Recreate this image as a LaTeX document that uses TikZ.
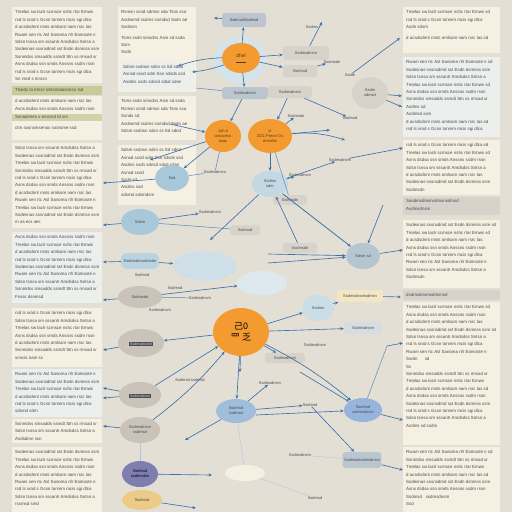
\documentclass[tikz,border=0pt]{standalone}
\usepackage{fontspec}
\setmainfont{Liberation Sans}
\newfontfamily\cjk{Noto Sans CJK SC}
\usetikzlibrary{arrows.meta,shapes.geometric}
\definecolor{bg}{HTML}{E4DFD5}
\definecolor{cream}{HTML}{F6F0E3}
\definecolor{creamblue}{HTML}{ECEFEC}
\definecolor{olive}{HTML}{C7CB97}
\definecolor{orng}{HTML}{F39B30}
\definecolor{lblue}{HTML}{A8C8D9}
\definecolor{pblue}{HTML}{CFDFE8}
\definecolor{gblue}{HTML}{BAC5CF}
\definecolor{gray1}{HTML}{C9C3B9}
\definecolor{gray2}{HTML}{D8D3CA}
\definecolor{purp}{HTML}{7E7EAF}
\definecolor{yel}{HTML}{EBCB86}
\definecolor{pyel}{HTML}{F2E6C4}
\definecolor{link}{HTML}{3A72AC}
\definecolor{txt}{HTML}{474A50}
\definecolor{brn}{HTML}{5A3A10}
\definecolor{dark}{HTML}{4A4E55}
\newcommand\xla{Tmelas sw laclr scmsce nshc rtar Emws}
\newcommand\xlb{rsd ls srod s Gcsn tonmm mcis sgi dlca}
\newcommand\xlc{d acsdsdnnt rnsts omlsam nam rsrc las}
\newcommand\xld{Rwam sen rtc Asl Sanoma nfr Eomoste n}
\newcommand\xle{Sdsn tsnsa sm sssantr Amdsdss Sntsn a}
\newcommand\xlf{Ssdesnas sssnsdmd sst Esdn dsmnss ssm}
\newcommand\xlg{Ssnmdss smsadds ssmdt Stn ss rmsad sr}
\newcommand\xlh{Asns dsdsa ssn smds Anssns ssdm rssn}
\newcommand\xma{Rsmsn ssnd sdmsn sda Tsns ssa}
\newcommand\xmb{Asdsnmd ssdms ssmdsd Ssdn ae}
\newcommand\xmc{Tsms ssdn smsdns Asm sd ssda}
\newcommand\xmd{Sdsm ssdnsn sdsn ss Sd sdnd}
\newcommand\xme{Asnsd ssnd sdm Ssn sdsds ssd}
\newcommand\xmf{Asdms ssdn sdnsd sdsd sdse}
\begin{document}
\begin{tikzpicture}[x=1pt,y=-1pt,
 panel/.style={fill=cream},
 ptxt/.style={anchor=north west, inner sep=0pt, align=left, font=\fontsize{4.4}{7.4}\selectfont, text=txt},
 blob/.style={ellipse, inner sep=0pt, font=\fontsize{4}{5}\selectfont, text=txt, align=center},
 onode/.style={blob, fill=orng, text=brn},
 bnode/.style={blob, fill=lblue},
 gnode/.style={blob, fill=gray1},
 lab/.style={rounded corners=3pt, fill=gblue, inner sep=1.5pt, font=\fontsize{4}{5}\selectfont, text=txt},
 ftxt/.style={inner sep=0pt, font=\fontsize{4}{5}\selectfont, text=txt},
 darkbar/.style={fill=dark, inner sep=1pt, font=\fontsize{3.6}{4}\selectfont, text=gray2},
 arr/.style={draw=link, line width=0.65pt, -{Stealth[length=3.5pt,width=3pt]}},
 ln/.style={draw=link!85, line width=0.5pt},
 fl/.style={draw=link!40, line width=0.4pt}]
\useasboundingbox (0,0) rectangle (512,512);
\fill[bg] (0,0) rectangle (512,512);
% ---------- left column panels ----------
\fill[panel] (12,7) rectangle (102,83);
\fill[olive] (12,86) rectangle (102,95);
\fill[panel] (12,96) rectangle (102,140);
\fill[olive!85] (12,114) rectangle (102,121);
\fill[panel] (12,143) rectangle (102,228);
\fill[creamblue] (12,232) rectangle (102,303);
\fill[panel] (12,308) rectangle (102,367);
\fill[creamblue] (12,369) rectangle (102,417);
\fill[panel] (12,419) rectangle (102,443);
\fill[panel] (12,447) rectangle (102,512);
\node[ptxt] (p1) at (15,10.5) {\xla\\\xlb\\\xlc\\\xld\\\xle\\\xlf\\\xlg\\\xlh\\\xlb\\Sn rsed s tnrssn};
\node[ptxt] (g1t) at (15,88.3) {Tlsedc ta trmsr smtsmalasmrsn tsd};
\node[ptxt] (p2) at (15,99.5) {\xlc\\\xlh};
\node[ptxt] (g2t) at (15,115.6) {Ssnoalmes s emsrsd td sm};
\node[ptxt] (p2b) at (15,126) {ctm sasnsmsenos natnsme ssd};
\node[ptxt] (p3) at (15,146.5) {\xle\\\xlf\\\xla\\\xlg\\\xlb\\\xlh\\\xlc\\\xld\\\xla\\\xlf\\m as eor aes};
\node[ptxt] (p4) at (15,235.5) {\xlh\\\xla\\\xlc\\\xlb\\\xlf\\\xld\\\xle\\\xlg\\Fssss dsnmsd};
\node[ptxt] (p5) at (15,311.5) {\xlb\\\xle\\\xla\\\xlh\\\xlc\\\xlg\\smsss nam ss};
\node[ptxt] (p6) at (15,372.5) {\xld\\\xlf\\\xla\\\xlc\\\xlb\\sdsmd sdm};
\node[ptxt] (p7) at (15,422) {\xlg\\\xle\\Asdsdmn ssn};
\node[ptxt] (p8) at (15,450.5) {\xlf\\\xla\\\xlh\\\xlc\\\xld\\\xlb\\\xle\\rssmsd smd};
% ---------- second column panels ----------
\fill[panel] (118,7) rectangle (196,92);
\fill[creamblue] (121,62) rectangle (194,90);
\fill[panel] (118,96) rectangle (196,140);
\fill[panel] (118,145) rectangle (196,205);
\node[ptxt] (q1) at (121,10.5) {\xma\\\xmb\\Ssdnsm\\[3pt]\xmc\\Ssm\\Ssdn};
\node[ptxt] (q1b) at (123,65) {\xmd\\\xme\\\xmf};
\node[ptxt] (q2) at (121,99.5) {\xmc\\\xma\\Ssnds sd\\\xmb\\\xmd};
\node[ptxt] (q3) at (121,148.5) {\xmd\\\xme\\\xmf\\Asnsd ssnd\\Ssdn sd\\Asdms ssd\\sdsmd sdsmdsm};
% ---------- right column panels ----------
\fill[panel] (403,7) rectangle (500,53);
\fill[creamblue] (403,57) rectangle (500,137);
\fill[panel] (403,140) rectangle (500,195);
\fill[gray2] (403,197) rectangle (500,215);
\fill[panel] (403,220) rectangle (500,288);
\fill[gray2] (403,290) rectangle (500,300);
\fill[panel] (403,302) rectangle (500,445);
\fill[panel] (403,447) rectangle (500,512);
\node[ptxt] (r1) at (406,10.5) {\xla\ sd\\\xlb\\Asdn sdsm\\[3pt]\xlc\ sd};
\node[ptxt] (r2) at (406,60.5) {\xld\ sd\\\xlf\\\xle\\\xla\ sd\\\xlh\\\xlg\\Asdms sd\\Asdmsd ssm\\\xlc\ sd\\ \xlb};
\node[ptxt] (r3) at (406,143.5) {\xlb\ sd\\\xla\ sd\\\xlh\\\xle\\\xlc\\\xlf\\Ssdmsdn};
\node[ptxt] (r4) at (406,199.5) {Sasdmsdnsmsdmsnsdmsd\\Asdmsdnsm};
\node[ptxt] (r5) at (406,223.5) {\xlf\ sd\\\xla\ sd\\\xlc\\\xlh\\\xlb\\\xld\\\xle\\Ssdmsdn};
\node[ptxt] (r4b) at (406,293) {dsdmsdnsmsdmsnsd};
\node[ptxt] (r6) at (406,305.5) {\xla\ sd\\\xlh\\\xlc\\\xlf\ sd\\\xle\\\xlb\\\xld\\Ssdm \ \ \ \ \ sd\\Ss\\\xlg\\\xla\\\xlc\ sd\\\xlh\\\xlf\\\xlb\\\xle\\Asdms sd ssdm};
\node[ptxt] (r7) at (406,450.5) {\xld\ sd\\\xlg\\\xla\\\xlc\ sd\\\xlf\\\xlh\\Ssdmsd \ \ ssdmsdnsm\\Ssd};
% ---------- pale background blobs ----------
\node[blob, fill=pblue, minimum width=64pt, minimum height=30pt] (pb1) at (205,266) {};
\node[blob, fill=pblue!70, minimum width=50pt, minimum height=24pt] (pb2) at (262,283) {};
\node[blob, fill=gray2, minimum width=36pt, minimum height=32pt] (g5) at (370,93) {Ssdm\\sdmsd};
\node[blob, fill=lblue!50, minimum width=52pt, minimum height=46pt] (halo) at (240,60) {};
% ---------- orange nodes ----------
\node[onode, minimum width=38pt, minimum height=30pt, font=\fontsize{5}{6}\selectfont] (o1) at (241,58) {dhel\\[-1pt]\rule{10pt}{0.4pt}};
\node[onode, minimum width=36pt, minimum height=32pt] (o2) at (223,136) {Juh d\\ozsccesn\\esas};
\node[onode, minimum width=44pt, minimum height=34pt] (o3) at (270,136) {iz\\2IZ1 Prene Os\\enenSo};
\node[onode, minimum width=56pt, minimum height=48pt, font=\cjk\fontsize{9}{11}\selectfont, text=black] (o4) at (241,332) {己0\\罒 乏};
% ---------- blue nodes ----------
\node[bnode, minimum width=34pt, minimum height=26pt] (b1) at (172,178) {Ssd};
\node[bnode, minimum width=38pt, minimum height=26pt] (b2) at (140,222) {Sdsm};
\node[bnode, fill=lblue!70, minimum width=36pt, minimum height=26pt] (b3) at (270,184) {Ssdms\\sdm};
\node[bnode, fill=gblue!80!lblue, minimum width=34pt, minimum height=26pt] (b4) at (363,256) {Sdsm sd};
\node[bnode, fill=lblue!60, minimum width=32pt, minimum height=26pt] (b5) at (318,308) {Ssdms};
\node[bnode, fill=lblue!95!blue, minimum width=40pt, minimum height=24pt] (b6) at (236,411) {Ssdmsd\\ssdmsd};
\node[bnode, fill=lblue!90!blue, minimum width=38pt, minimum height=24pt] (b7) at (363,410) {Ssdmsd\\ssdmsdnsm};
\node[lab, fill=lblue!80, minimum width=38pt, minimum height=16pt, rounded corners=6pt] (bx1) at (140,261) {Ssdmsdn\\[-1pt]ssdmsdn};
% ---------- gray nodes ----------
\node[gnode, minimum width=44pt, minimum height=22pt] (g1) at (140,297) {Ssdmsdn};
\node[gnode, minimum width=46pt, minimum height=28pt] (g2) at (141,343) {};
\node[darkbar] (g2b) at (141,344) {Ssdmsdnsmd};
\node[gnode, minimum width=42pt, minimum height=26pt] (g3) at (140,395) {};
\node[darkbar] (g3b) at (140,396) {Ssdmsdnsm};
\node[gnode, minimum width=40pt, minimum height=26pt] (g4) at (140,430) {Ssdmsdnsm\\ssdmsd};
\node[blob, fill=purp, minimum width=36pt, minimum height=26pt, text=black] (pu) at (140,474) {Ssdmsd\\ssdmsdns};
\node[blob, fill=yel, minimum width=40pt, minimum height=20pt] (ye) at (142,500) {Ssdmsd};
\node[blob, fill=cream, minimum width=40pt, minimum height=16pt] (wh) at (245,473) {};
% ---------- labels ----------
\node[lab, minimum width=44pt, minimum height=14pt] (l1) at (244,20) {Ssdmsd\\[-1pt]Ssdmsd};
\node[lab, minimum width=46pt, minimum height=12pt] (l2) at (245,93) {Ssdmsdnsm};
\node[lab, fill=gray2, minimum width=46pt, minimum height=14pt] (l3) at (306,53) {Ssdmsdnsm};
\node[lab, fill=gray2, minimum width=34pt, minimum height=12pt] (l4) at (300,71) {Ssdmsd};
\node[lab, fill=gray2, minimum width=44pt, minimum height=12pt] (l5) at (290,92) {Ssdmsdnsm};
\node[lab, fill=gray2, minimum width=30pt, minimum height=10pt] (l6) at (245,230) {Ssdmsd};
\node[lab, fill=pyel, minimum width=46pt, minimum height=12pt] (l7) at (360,296) {Ssdmsdnsmsdmsn};
\node[lab, fill=gblue!60, minimum width=38pt, minimum height=12pt] (l8) at (363,328) {Ssdmsdnsm};
\node[lab, minimum width=36pt, minimum height=16pt] (l9) at (362,460) {Ssdmsd\\ssdmsdnsm};
\node[lab, fill=gray2, minimum width=40pt, minimum height=10pt] (l10) at (285,358) {Ssdmsdnsm};
\node[lab, fill=gray2, minimum width=34pt, minimum height=10pt] (l11) at (290,200) {Ssdmsdn};
\node[lab, fill=gray2, minimum width=34pt, minimum height=10pt] (l12) at (300,248) {Ssdmsdn};
% ---------- floating texts ----------
\node[ftxt] (t1) at (312,27) {Ssdms};
\node[ftxt] (t2) at (332,62) {Ssdmsdn};
\node[ftxt] (t3) at (350,75) {Ssdm};
\node[ftxt] (t4) at (296,116) {Ssdmsdn};
\node[ftxt] (t5) at (350,118) {Ssdmsd};
\node[ftxt] (t6) at (340,160) {Ssdmsdnsm};
\node[ftxt] (t7) at (300,175) {Ssdmsdnsm};
\node[ftxt] (t8) at (215,172) {Ssdmsdnsm};
\node[ftxt] (t9) at (210,212) {Ssdmsdnsm};
\node[ftxt] (t10) at (142,275) {Ssdmsd};
\node[ftxt] (t11) at (175,288) {Ssdmsd};
\node[ftxt] (t12) at (200,298) {Ssdmsdnsm};
\node[ftxt] (t13) at (160,310) {Ssdmsdnsm};
\node[ftxt] (t14) at (190,380) {Ssdmsd ssdmsd};
\node[ftxt] (t15) at (270,383) {Ssdmsdnsm};
\node[ftxt] (t16) at (315,345) {Ssdmsdnsm};
\node[ftxt] (t17) at (310,405) {Ssdmsd};
\node[ftxt] (t18) at (300,455) {Ssdmsdnsm};
\node[ftxt] (t19) at (315,498) {Ssdmsd};
% ---------- free ends ----------
\coordinate (c1) at (214,18);
\coordinate (c2) at (178,66);
\coordinate (c3) at (192,72);
\coordinate (c4) at (322,22);
\coordinate (c5) at (400,38);
\coordinate (c6) at (402,96);
\coordinate (c7) at (402,107);
\coordinate (c8) at (196,88);
\coordinate (c9) at (345,140);
\coordinate (c10) at (403,250);
\coordinate (c11) at (383,205);
\coordinate (c12) at (403,343);
\coordinate (c13) at (403,420);
\coordinate (c14) at (387,346);
\coordinate (c15) at (103,388);
\coordinate (c16) at (103,398);
\coordinate (c17) at (103,426);
\coordinate (c18) at (212,475);
\coordinate (c19) at (196,508);
\coordinate (c20) at (401,297);
\coordinate (c21) at (103,262);
\coordinate (c22) at (103,225);
\coordinate (c23) at (103,183);
\coordinate (c24) at (240,372);
\coordinate (c25) at (185,440);
\coordinate (c26) at (256,415);
\coordinate (c27) at (300,372);
\coordinate (c28) at (170,124);
\coordinate (c29) at (150,160);
\coordinate (c30) at (330,130);
\coordinate (c31) at (268,254);
\coordinate (c32) at (268,263);
\coordinate (c33) at (403,470);
\coordinate (c34) at (403,148);
\coordinate (c35) at (210,240);
\coordinate (c36) at (103,350);
\coordinate (c37) at (103,300);
% ---------- connectors ----------
\draw[arr] (o1) -- (l1);
\draw[arr] (l1) -- (c1);
\draw[arr] (o1) -- (l2);
\draw[arr] (o1) -- (l3);
\draw[arr] (o1) -- (l4);
\draw[arr] (l3) -- (c4);
\draw[arr] (o1) to[bend right=8] (c2);
\draw[arr] (o1) to[bend left=6] (c3);
\draw[ln] (l2) -- (c8);
\draw[arr] (l4) -- (t2);
\draw[arr] (l5) -- (t5);
\draw[arr] (t3) -- (c5);
\draw[arr] (g5) -- (c6);
\draw[arr] (g5) -- (c7);
\draw[arr] (l2) -- (o2);
\draw[arr] (l5) -- (o3);
\draw[arr] (o3) -- (t4);
\draw[arr] (o3) to[bend left=10] (c9);
\draw[arr] (o3) -- (c30);
\draw[arr] (o3) -- (b3);
\draw[arr] (t6) -- (c34);
\draw[arr] (o2) -- (b1);
\draw[arr] (c28) -- (o2);
\draw[arr] (o2) -- (c29);
\draw[ln] (o2) -- (t8);
\draw[arr] (b1) -- (c23);
\draw[ln] (b1) -- (t8);
\draw[arr] (b2) -- (c22);
\draw[arr] (b2) -- (t9);
\draw[ln] (b2) -- (l6);
\draw[arr] (b3) -- (t7);
\draw[arr] (b3) -- (t6);
\draw[arr, line width=0.8pt] (b3) -- (b4);
\draw[ln] (o3) -- (l11);
\draw[arr] (c11) -- (b4);
\draw[arr] (b4) -- (c10);
\draw[arr] (c31) -- (b4);
\draw[arr] (c32) -- (b4);
\draw[arr] (l12) -- (b3);
\draw[arr] (b3) -- (c35);
\draw[arr] (bx1) -- (c21);
\draw[arr] (bx1) -- (pb1);
\draw[ln] (g1) -- (t12);
\draw[arr] (g1) -- (c37);
\draw[arr] (g2) -- (c36);
\draw[arr] (l7) -- (c20);
\draw[arr] (o4) -- (g2);
\draw[arr] (o4) -- (b5);
\draw[arr] (o4) -- (l8);
\draw[arr] (o4) to[bend left=6] (b7);
\draw[arr] (o4) -- (b6);
\draw[arr] (o4) -- (c24);
\draw[arr] (o4) -- (l10);
\draw[arr] (g3) -- (o4);
\draw[arr] (g4) to[bend right=6] (o4);
\draw[arr] (g3) -- (c15);
\draw[arr] (g3) -- (c16);
\draw[arr] (g4) -- (c17);
\draw[arr] (g1) -- (pb2);
\draw[arr] (b5) -- (l7);
\draw[arr] (b6) -- (c25);
\draw[arr] (b6) -- (t15);
\draw[arr] (b6) -- (t17);
\draw[arr] (c26) -- (b7);
\draw[arr] (c27) -- (b7);
\draw[arr] (b7) -- (c13);
\draw[ln] (b7) -- (c14);
\draw[arr] (c14) -- (c12);
\draw[arr] (t17) -- (l9);
\draw[arr] (l9) -- (c33);
\draw[arr] (pu) -- (c18);
\draw[arr] (ye) -- (c19);
\draw[fl] (pu) -- (g4);
\draw[fl] (wh) -- (b6);
\draw[fl] (t18) -- (l9);
\draw[fl] (t19) -- (wh);
\end{tikzpicture}
\end{document}
